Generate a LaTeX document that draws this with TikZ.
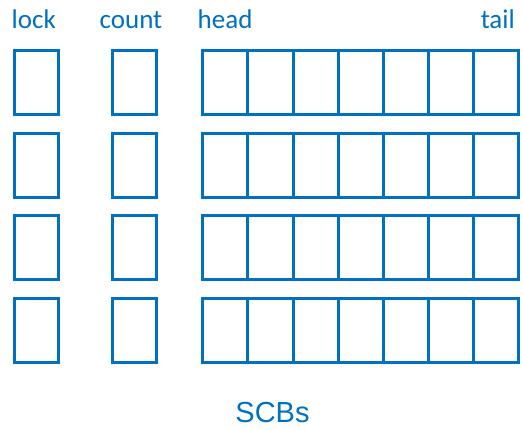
\documentclass[tikz,border=0pt]{standalone}
\usepackage{fontspec}
\setmainfont{Carlito}
\newfontfamily\arialfont{Liberation Sans}
\definecolor{scbblue}{RGB}{0,112,192}
\usetikzlibrary{positioning}
\tikzset{
  slot/.style={draw=scbblue,line width=3pt,inner sep=0pt,outer sep=0pt,
               minimum width=44pt,minimum height=64pt},
  cell/.style={slot,minimum width=45.1pt},
  fieldlabel/.style={text=scbblue,font=\fontsize{27}{29}\selectfont,inner sep=0pt},
  caption/.style={text=scbblue,font=\arialfont\fontsize{29}{31}\selectfont,inner sep=0pt},
}

\begin{document}
\begin{tikzpicture}[x=1pt,y=-1pt]
  \useasboundingbox (0,0) rectangle (523,430);
  % field names over the columns
  \node[fieldlabel,anchor=base west] (lock) at (11.5,28.5) {lock};
  \node[fieldlabel,anchor=base west] (count) at (99.5,28.5) {count};
  \node[fieldlabel,anchor=base west] (head) at (197.5,28.5) {head};
  \node[fieldlabel,anchor=base east] (tail) at (515,28.5) {tail};
  % one row per SCB: lock, count, then the queue cells
  \foreach \r in {1,...,4} {
    \pgfmathsetmacro{\yc}{82.5+82.7*(\r-1)}
    \node[slot] (lk\r) at (36.5,\yc) {};
    \node[slot] (ct\r) at (134.2,\yc) {};
    \foreach \i in {1,...,7}
      \node[cell] (q\r-\i) at ({202.8+45.1*(\i-0.5)},\yc) {};
  }
  \node[caption,anchor=base] (scbs) at (272.5,422.5) {SCBs};
\end{tikzpicture}
\end{document}
